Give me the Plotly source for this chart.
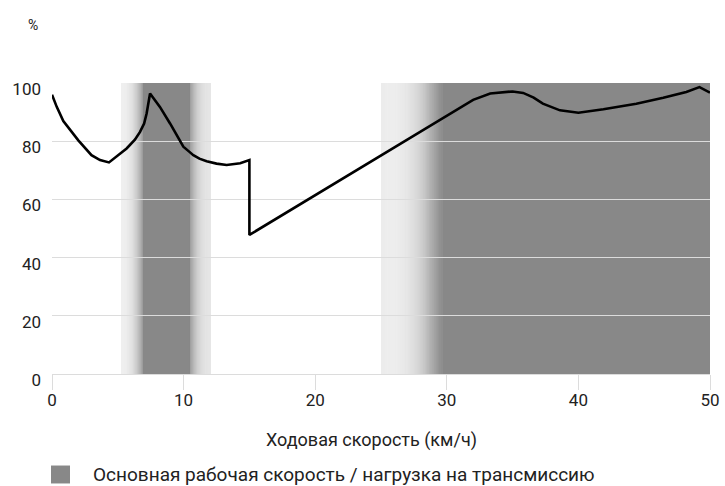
import plotly.graph_objects as go

# ---- data ----
speed = [0, 0.36, 0.86, 2.0, 3.0, 3.65, 4.33, 5.0, 5.67, 6.3, 6.69, 7.0, 7.19, 7.45,
         8.2, 8.97, 9.5, 9.98, 10.4, 10.74, 11.2, 11.75, 12.5, 13.27, 14.3, 15.0,
         15.0, 32.0, 33.3, 35.0, 35.8, 36.6, 37.3, 38.6, 40.0, 41.9, 44.4, 46.45,
         48.2, 49.2, 50.0]
load = [96.0, 91.8, 86.9, 80.3, 75.2, 73.5, 72.7, 75.0, 77.5, 80.5, 83.2, 86.1, 89.5, 96.4,
        91.8, 86.1, 82.0, 78.1, 76.5, 75.2, 74.0, 73.1, 72.3, 71.8, 72.4, 73.5,
        47.8, 94.2, 96.4, 97.1, 96.6, 95.0, 92.9, 90.6, 89.8, 91.0, 92.9, 94.9,
        96.9, 98.6, 96.7]

# main working speed bands: outer start, core start, core end, outer end
band_outer_start = [5.24, 25.0]
band_core_start = [6.9, 29.64]
band_core_end = [10.49, 50.0]
band_outer_end = [12.08, 50.0]

x_ticks = [0, 10, 20, 30, 40, 50]
y_ticks = [0, 20, 40, 60, 80, 100]

x_title = "Ходовая скорость (км/ч)"
y_unit = "%"
legend_label = "Основная рабочая скорость / нагрузка на трансмиссию"

DARK = 136
LIGHT = 236
FONT = "Roboto"


def gray(v):
    v = int(round(v))
    return f"rgb({v},{v},{v})"


shapes = []
N = 60
for xs, cs, ce, xe in zip(band_outer_start, band_core_start, band_core_end, band_outer_end):
    # left fade
    for i in range(N):
        a = xs + (cs - xs) * i / N
        b = xs + (cs - xs) * (i + 1) / N
        t = (i + 0.5) / N
        f = 1 - t ** 2.5
        shapes.append(dict(type="rect", xref="x", yref="y", x0=a, x1=b + 0.01, y0=0, y1=100,
                           fillcolor=gray(DARK + (LIGHT - DARK) * f), line=dict(width=0),
                           layer="below"))
    # core
    shapes.append(dict(type="rect", xref="x", yref="y", x0=cs, x1=ce, y0=0, y1=100,
                       fillcolor=gray(DARK), line=dict(width=0), layer="below"))
    # right fade
    if xe > ce:
        for i in range(N):
            a = ce + (xe - ce) * i / N
            b = ce + (xe - ce) * (i + 1) / N
            t = 1 - (i + 0.5) / N
            f = 1 - t ** 2.5
            shapes.append(dict(type="rect", xref="x", yref="y", x0=a - 0.01, x1=b, y0=0, y1=100,
                               fillcolor=gray(DARK + (LIGHT - 12 - DARK) * f), line=dict(width=0),
                               layer="below"))

# legend swatch (paper coordinates)
shapes.append(dict(type="rect", xref="paper", yref="paper",
                   x0=-0.0015, x1=0.0274, y0=-0.3145, y1=-0.3762,
                   fillcolor=gray(DARK), line=dict(width=0)))

fig = go.Figure()
fig.add_trace(go.Scatter(x=speed, y=load, mode="lines",
                         line=dict(color="black", width=2.6),
                         showlegend=False, hoverinfo="skip"))

fig.update_layout(
    width=725, height=486,
    margin=dict(l=52, r=15, t=83, b=112),
    plot_bgcolor="white", paper_bgcolor="white",
    font=dict(family=FONT, size=17, color="#222"),
    showlegend=False,
    shapes=shapes,
    annotations=[
        dict(text=y_unit, xref="paper", yref="paper", x=-0.029, y=1.198,
             showarrow=False, xanchor="center", yanchor="middle",
             font=dict(size=14, color="#222")),
        dict(text=x_title, xref="paper", yref="paper", x=0.486, y=-0.226,
             showarrow=False, xanchor="center", yanchor="middle",
             font=dict(size=18, color="#222")),
        dict(text=legend_label, xref="paper", yref="paper", x=0.0593, y=-0.3453,
             showarrow=False, xanchor="left", yanchor="middle",
             font=dict(size=19, color="#222")),
    ],
)

fig.update_xaxes(
    range=[0, 50], tickvals=x_ticks, ticktext=[str(v) for v in x_ticks],
    showgrid=False, zeroline=False, automargin=False,
    showline=True, linecolor="#dcdcdc", linewidth=1,
    ticks="outside", ticklen=15, tickcolor="#dcdcdc", tickwidth=1,
    ticklabelstandoff=-4,
    tickfont=dict(size=17),
)
fig.update_yaxes(
    range=[0, 100], tickvals=y_ticks, ticktext=[str(v) for v in y_ticks],
    showgrid=True, gridcolor="#dcdcdc", gridwidth=1, zeroline=False, automargin=False,
    showline=False, ticks="", ticklabelstandoff=10, ticklabelshift=6,
    tickfont=dict(size=17),
)

fig.write_html(
    "out.html",
    config={"displayModeBar": False, "staticPlot": True},
    post_script="document.body.style.margin='0';document.body.style.overflow='hidden';",
)
